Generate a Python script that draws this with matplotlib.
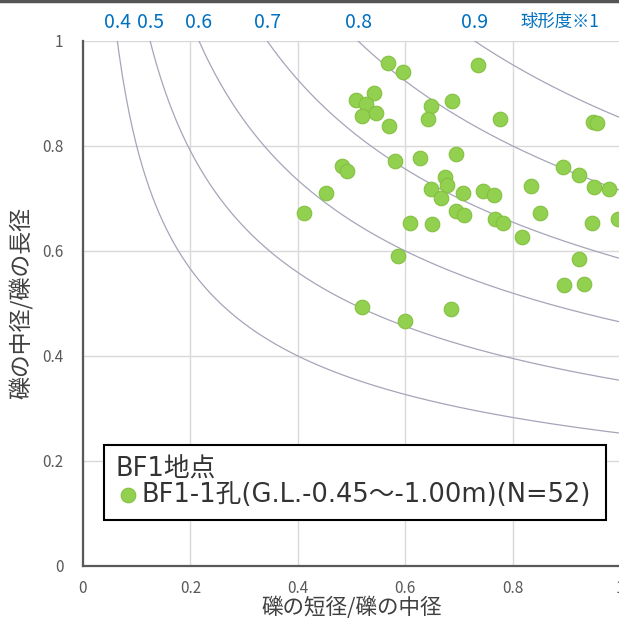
import numpy as np
import matplotlib.pyplot as plt
from matplotlib.lines import Line2D

plt.rcParams['font.family'] = ['Noto Sans CJK JP', 'DejaVu Sans']

# ------------------------
# Data
# ------------------------
# x: 礫の短径/礫の中径, y: 礫の中径/礫の長径
short_mid = [0.568, 0.596, 0.736, 0.542, 0.509, 0.527, 0.545, 0.520, 0.569,
             0.648, 0.686, 0.643, 0.777, 0.950, 0.957, 0.694, 0.581, 0.628,
             0.483, 0.491, 0.452, 0.412, 0.894, 0.924, 0.951, 0.980, 0.833,
             0.647, 0.674, 0.677, 0.667, 0.708, 0.745, 0.765, 0.694, 0.710,
             0.766, 0.782, 0.851, 0.948, 0.995, 0.608, 0.649, 0.817, 0.924,
             0.896, 0.932, 0.586, 0.520, 0.600, 0.685]
mid_long = [0.959, 0.941, 0.955, 0.900, 0.887, 0.880, 0.863, 0.858, 0.838,
            0.876, 0.886, 0.851, 0.851, 0.846, 0.844, 0.785, 0.772, 0.777,
            0.761, 0.752, 0.711, 0.673, 0.760, 0.744, 0.721, 0.719, 0.723,
            0.718, 0.740, 0.726, 0.700, 0.710, 0.715, 0.707, 0.676, 0.669,
            0.660, 0.654, 0.672, 0.654, 0.661, 0.654, 0.651, 0.627, 0.584,
            0.535, 0.538, 0.590, 0.493, 0.466, 0.490]

# sphericity iso-lines (球形度)
sphericity = [0.4, 0.5, 0.6, 0.7, 0.8, 0.9]

legend_title = "BF1地点"
series_label = "BF1-1孔(G.L.-0.45～-1.00m)(N=52)"

# ------------------------
# Plot
# ------------------------
fig = plt.figure(figsize=(6.19, 6.21), dpi=100)
ax = fig.add_axes([0.134, 0.0886, 0.868, 0.8454])

# sphericity curves: psi^3 = x * y^2
for s in sphericity:
    xs = np.linspace(s ** 3, 1.0, 300)
    ax.plot(xs, np.sqrt(s ** 3 / xs), color="#a4a6b8", linewidth=0.9, zorder=2)
    ax.text(s ** 3, 1.036, f"{s:.1f}", color="#0070C0", fontsize=14,
            ha="center", va="center", clip_on=False)
ax.text(0.888, 1.036, "球形度※1", color="#0070C0", fontsize=12.5,
        ha="center", va="center", clip_on=False)

ax.scatter(short_mid, mid_long, s=110, color="#92D050", edgecolors="#84c040",
           linewidths=0.8, zorder=3, label=series_label)

# ------------------------
# Axis formatting
# ------------------------
ax.set_xlim(0, 1)
ax.set_ylim(0, 1)
ticks = [0, 0.2, 0.4, 0.6, 0.8, 1]
ax.set_xticks(ticks)
ax.set_yticks(ticks)
ax.set_xticklabels(["0", "0.2", "0.4", "0.6", "0.8", "1"])
ax.set_yticklabels(["0", "0.2", "0.4", "0.6", "0.8", "1"])
ax.tick_params(length=0, labelsize=11, labelcolor="#595959")
ax.tick_params(axis="x", pad=10)
ax.tick_params(axis="y", pad=14)
ax.grid(color="#d9d9d9", linewidth=1)
ax.set_axisbelow(True)

for side in ["top", "right"]:
    ax.spines[side].set_visible(False)
for side in ["left", "bottom"]:
    ax.spines[side].set_color("#595959")
    ax.spines[side].set_linewidth(1.6)

ax.set_xlabel("礫の短径/礫の中径", fontsize=15.5, color="#404040", labelpad=0)
ax.set_ylabel("礫の中径/礫の長径", fontsize=16.5, color="#404040", labelpad=6)

legend_font = {"family": ["DejaVu Sans", "Noto Sans CJK JP"], "size": 18.5}
leg = ax.legend(loc="lower left", bbox_to_anchor=(0.039, 0.088, 0.935, 0.139),
                mode="expand", title=legend_title, alignment="left",
                prop=legend_font, handletextpad=0.0, handlelength=1.0,
                borderpad=0.45, borderaxespad=0, labelspacing=0.0,
                fancybox=False, framealpha=1, edgecolor="black",
                labelcolor="#333333")
leg.get_title().set_fontproperties(legend_font)
leg.get_title().set_color("#333333")
leg.get_frame().set_linewidth(1.5)

# dark frame edge at the top of the screenshot
fig.add_artist(Line2D([0, 1], [0.998, 0.998], color="#555555", linewidth=2.5,
                      transform=fig.transFigure))

fig.savefig("out.png", dpi=100)
